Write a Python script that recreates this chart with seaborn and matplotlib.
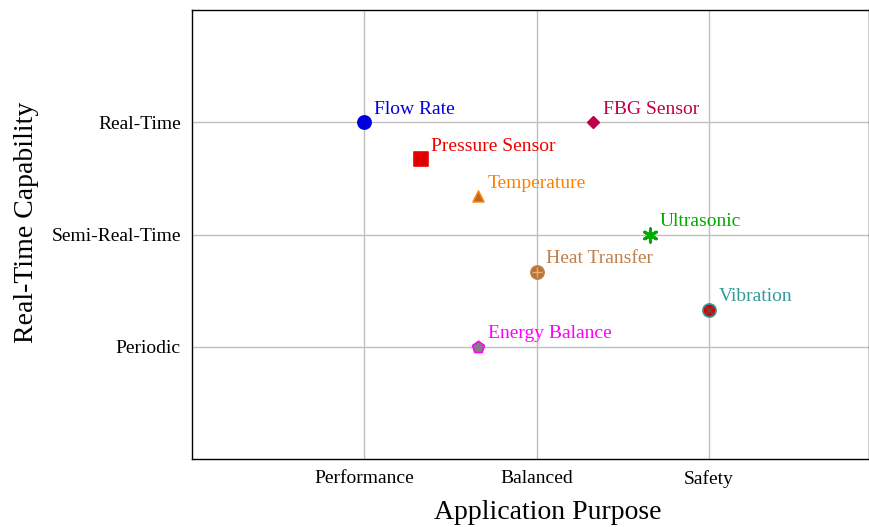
import pandas as pd
import matplotlib.pyplot as plt
import seaborn as sns

# data
methods = ["Flow Rate", "Pressure Sensor", "Temperature", "FBG Sensor",
           "Ultrasonic", "Heat Transfer", "Vibration", "Energy Balance"]
purpose = [1.0, 1.33, 1.66, 2.33, 2.66, 2.0, 3.0, 1.66]
realtime = [3.0, 2.67, 2.34, 3.0, 2.0, 1.67, 1.33, 1.0]
text_colors = ["#0000dd", "#ee0000", "#ff8000", "#c0004a",
               "#00aa00", "#c0804a", "#339999", "#ff00ff"]
face_colors = ["#0000dd", "#dd0000", "#b86a20", "#c0004a",
               "#00aa00", "#b87333", "#dd0000", "#808080"]
markers = ["o", "s", "^", "D", (6, 2, 0), "o", "o", "p"]
sizes = [90, 90, 60, 35, 90, 90, 90, 80]

x_ticks = [1, 2, 3]
x_labels = ["Performance", "Balanced", "Safety"]
y_ticks = [1, 2, 3]
y_labels = ["Periodic", "Semi-Real-Time", "Real-Time"]

df = pd.DataFrame({"method": methods, "purpose": purpose, "realtime": realtime})

sns.set_style("white")
plt.rcParams["font.family"] = ["Liberation Serif", "DejaVu Serif"]

fig, ax = plt.subplots(figsize=(8.69, 5.27), dpi=100)

for i, row in df.iterrows():
    edge = text_colors[i]
    lw = 2.2 if i == 4 else 1.2
    sns.scatterplot(x=[row["purpose"]], y=[row["realtime"]], marker=markers[i],
                    s=sizes[i], color=face_colors[i], edgecolor=edge,
                    linewidth=lw, ax=ax, zorder=3, legend=False)
    ax.annotate(row["method"], (row["purpose"], row["realtime"]),
                xytext=(7, 6), textcoords="offset points",
                color=text_colors[i], fontsize=14)

# inner symbols for the crossed circles
sns.scatterplot(x=[purpose[5]], y=[realtime[5]], marker="+", s=45,
                color="#e0b080", linewidth=1, ax=ax, zorder=4, legend=False)
sns.scatterplot(x=[purpose[6]], y=[realtime[6]], marker="x", s=35,
                color="#555555", linewidth=1, ax=ax, zorder=4, legend=False)

ax.set_xlim(0, 3.93)
ax.set_ylim(0, 4)
ax.set_xticks(x_ticks)
ax.set_xticklabels(x_labels, fontsize=14, color="black")
ax.set_yticks(y_ticks)
ax.set_yticklabels(y_labels, fontsize=14, color="black")
ax.grid(True, color="#c0c0c0", linewidth=1)
ax.set_axisbelow(True)
for sp in ax.spines.values():
    sp.set_color("black")
    sp.set_linewidth(1)
ax.tick_params(length=0, pad=8)
ax.set_xlabel("Application Purpose", fontsize=20, color="black")
ax.set_ylabel("Real-Time Capability", fontsize=20, color="black")
ax.xaxis.set_label_coords(0.526, -0.092)
ax.yaxis.set_label_coords(-0.226, 0.528)

plt.subplots_adjust(left=0.221, right=1.0, top=0.981, bottom=0.129)
plt.savefig("out.png", dpi=100)
